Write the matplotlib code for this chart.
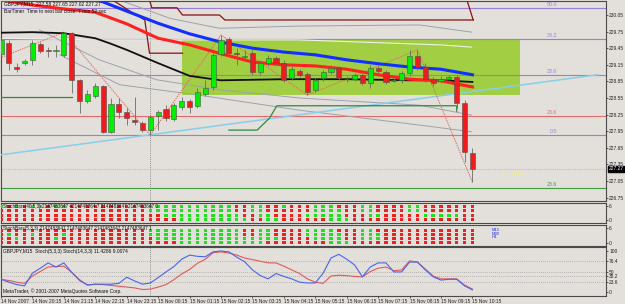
import matplotlib
matplotlib.use("Agg")
import matplotlib.pyplot as plt
from matplotlib.patches import Rectangle
import matplotlib.transforms as mtransforms

W, H = 625, 304
BG = '#e3dfda'
plt.rcParams['font.family'] = ['Liberation Sans', 'DejaVu Sans']

# ---- bars (GBPJPY M15, 14 Nov 19:15 .. 15 Nov 10:15) ----
opens = [229.35, 229.54, 229.11, 229.18, 229.24, 229.53, 229.42, 229.40, 229.33, 229.72,
         228.88, 228.50, 228.59, 228.77, 227.94, 228.44, 228.30, 228.15, 228.10, 227.97,
         228.23, 228.35, 228.17, 228.39, 228.50, 228.41, 228.62, 228.75, 229.35, 229.62,
         229.36, 229.30, 229.36, 229.02, 229.18, 229.27, 229.18, 228.91, 229.04, 228.98,
         228.70, 228.91, 229.02, 229.09, 228.90, 228.89, 228.97, 228.82, 229.09, 229.02,
         228.86, 228.87, 229.00, 229.31, 229.11, 228.89, 228.86, 228.89, 228.93, 228.46, 227.56]
highs = [229.63, 229.60, 229.18, 229.25, 229.60, 229.56, 229.47, 229.51, 229.74, 229.74,
         228.89, 228.70, 228.82, 228.79, 228.55, 228.55, 228.37, 228.57, 228.14, 228.24,
         228.33, 228.42, 228.46, 228.57, 228.53, 228.73, 228.88, 229.36, 229.69, 229.65,
         229.45, 229.42, 229.42, 229.24, 229.33, 229.31, 229.24, 229.13, 229.07, 229.02,
         228.91, 229.06, 229.15, 229.13, 228.95, 229.00, 229.00, 229.15, 229.13, 229.06,
         228.93, 229.04, 229.42, 229.42, 229.18, 228.93, 228.95, 228.97, 228.97, 228.51, 227.65]
lows = [229.31, 229.06, 229.02, 229.15, 229.15, 229.36, 229.29, 229.29, 229.29, 228.64,
        228.28, 228.46, 228.55, 227.92, 227.92, 228.19, 228.06, 228.06, 227.94, 227.88,
        227.97, 228.14, 228.14, 228.33, 228.28, 228.37, 228.59, 228.70, 229.31, 229.31,
        229.15, 229.24, 228.97, 228.97, 229.13, 229.15, 228.84, 228.88, 228.93, 228.60,
        228.66, 228.86, 228.98, 228.88, 228.84, 228.86, 228.79, 228.73, 229.00, 228.80,
        228.84, 228.82, 228.95, 229.06, 228.84, 228.77, 228.82, 228.88, 228.37, 227.39, 227.03]
closes = [229.60, 229.18, 229.07, 229.22, 229.54, 229.40, 229.40, 229.41, 229.72, 228.88,
          228.50, 228.62, 228.77, 227.94, 228.44, 228.30, 228.19, 228.12, 227.97, 228.21,
          228.30, 228.19, 228.42, 228.50, 228.39, 228.66, 228.73, 229.33, 229.60, 229.36,
          229.34, 229.31, 229.02, 229.18, 229.27, 229.18, 228.88, 229.07, 228.97, 228.66,
          228.88, 229.02, 229.09, 228.91, 228.89, 228.97, 228.82, 229.09, 229.04, 228.84,
          228.87, 229.00, 229.31, 229.11, 228.89, 228.82, 228.89, 228.93, 228.46, 227.57, 227.27]

time_labels = ["14 Nov 2007", "14 Nov 20:15", "14 Nov 21:15", "14 Nov 22:15", "14 Nov 23:15",
               "15 Nov 00:15", "15 Nov 01:15", "15 Nov 02:15", "15 Nov 03:15", "15 Nov 04:15",
               "15 Nov 05:15", "15 Nov 06:15", "15 Nov 07:15", "15 Nov 08:15", "15 Nov 09:15",
               "15 Nov 10:15"]
time_label_bars = [0, 4, 8, 12, 16, 20, 24, 28, 32, 36, 40, 44, 48, 52, 56, 60]
day_sep_bar = 19

# moving averages (bar, price)
ma_blue_bars = [0, 4, 8, 12, 16, 20, 24, 28, 32, 36, 40, 44, 48, 52, 56, 60]
ma_blue = [230.97, 230.75, 230.54, 230.34, 230.12, 229.90, 229.71, 229.56, 229.45, 229.38,
           229.33, 229.24, 229.17, 229.11, 229.07, 228.97]
ma_red_bars = [0, 4, 8, 12, 16, 20, 24, 28, 32, 36, 40, 44, 48, 52, 56, 60]
ma_red = [230.32, 230.23, 230.16, 230.10, 229.89, 229.63, 229.51, 229.35, 229.20, 229.15,
          229.13, 229.07, 228.97, 228.89, 228.86, 228.75]
ma_black_bars = [0, 4, 8, 12, 14, 16, 20, 24, 28, 36, 44, 52, 56, 60]
ma_black = [229.73, 229.74, 229.72, 229.63, 229.53, 229.42, 229.18, 228.95, 228.87, 228.89,
            228.89, 228.87, 228.87, 228.84]

# envelope lines
env1_bars = [15.1, 21.5, 27.8, 38.0, 53.3, 59.9]
env1 = [230.32, 229.99, 229.81, 229.85, 229.87, 229.74]
env2_bars = [-0.2, 12.5, 27.8, 38.0, 55.9, 59.9]
env2 = [229.63, 229.60, 229.60, 229.60, 229.51, 229.47]
env3_bars = [4.9, 12.5, 19.8, 27.8, 38.0, 53.3, 59.9]
env3 = [229.78, 229.24, 228.88, 228.70, 228.55, 228.42, 228.24]
env4_bars = [7.5, 15.1, 25.3, 38.0, 53.3, 59.9]
env4 = [229.33, 228.79, 228.60, 228.33, 228.06, 227.94]

# higher timeframe step lines (maroon)
htf_a_bars = [18.9, 19.2, 22.4, 23.1, 27.8, 28.5, 60.1]
htf_a = [230.32, 230.18, 230.18, 230.05, 230.05, 229.96, 229.96]
htf_b_bars = [14.2, 16.75, 18.3, 18.9, 23.1]
htf_b = [230.32, 230.09, 229.96, 229.36, 229.36]
htf_c_bars = [59.3, 60.1]
htf_c = [230.32, 229.96]

# green step line
grn_a_bars = [-0.2, 9.0]
grn_a = [228.57, 228.57]
grn_b_bars = [29.0, 32.6, 34.2, 35.1, 58.0, 58.0]
grn_b = [227.97, 227.97, 228.19, 228.41, 228.41, 228.31]

# zigzag
zz_bars = [-0.2, 8, 19, 28, 39, 53, 60]
zz = [229.27, 229.74, 227.88, 229.69, 228.60, 229.42, 227.03]

# trendline and rectangle
trend_bars = [-0.2, 75.9]
trend = [227.52, 228.97]
box_bars = [23.0, 66.05]
box_prices = [228.60, 229.62]

# fibonacci levels
fib_prices = [230.18, 229.62, 228.97, 228.22, 227.88, 226.93]
fib_names = ["50.0", "38.2", "23.6", "23.6", "0.0", "23.6"]
fib_colors = ['#9a7fd8', '#9a7fd8', '#9a7fd8', '#e86a6a', '#9a7fd8', '#3f9f3f']

last_price = 227.27
price_ticks = [230.05, 229.75, 229.45, 229.15, 228.85, 228.55, 228.25, 227.95,
               227.65, 227.35, 227.05, 226.75]

# stoch bar indicators: 4 rows each, G = green, R = red
sb1_rows = ["GRGRGGRGGR" "RRRRRRRRRG" "GGGGGGGGGG" "RRGGRRGRRR" "GGGRRRGGRR" "RRGGRRRRRR" "R",
            "RRRRRRRRRR" "RRRRRRRRRG" "GGGGGGGGGG" "RRGGRRRRRR" "GGGGRRGGRR" "RRGGRRRRRR" "R",
            "RRRRRRRRRR" "RRRRRRRRRR" "RGGGGGGGGG" "GRRGGRRRRG" "GGGGRRRGGR" "RRRRGGGGGR" "R",
            "RRRRRRRRRR" "RRRRRRRRRR" "RRRGGGGGGG" "GGRRGGRRRR" "RRGGGRRRRR" "RRRRRRRRRR" "R"]
sb2_rows = ["RRRRRRRRRR" "RRRRRRRRRG" "GGGGGGGGGG" "GRRGGRRRRG" "GGGRRRGGRR" "RRRRRRRRRR" "R",
            "RGRRGRRRGR" "RRRRRRRRRG" "GGGGGGGGGG" "GRRGGRRRRG" "GGGGRRGGGR" "RRRRRRRRRR" "R",
            "RRGRRRRGRR" "RRRRRRRRRR" "GGGGGGGGGG" "GGGGGGRRRR" "GGGGRRGGGR" "RRRRRRRRRR" "R",
            "RRRRRRRRRR" "RRRRRRRRRR" "RRRGGGGGGG" "GGGGRRRRRR" "RRGGGRRRRR" "RRRRRRRRRR" "R"]

# stochastics
stoch_main = [31, 24, 18, 15, 46, 58, 71, 61, 71, 48, 28, 17, 19, 19, 19, 21, 36, 27, 19, 22,
              35, 49, 62, 80, 90, 87, 86, 98, 100, 98, 85, 74, 54, 40, 32, 45, 38, 32, 24, 22,
              22, 46, 83, 92, 80, 66, 37, 61, 71, 71, 49, 49, 73, 73, 54, 37, 29, 31, 31, 15, 5]
stoch_signal = [31, 28, 24, 21, 39, 50, 61, 62, 63, 48, 30, 17, 19, 18, 16, 14, 12, 10, 6, 7,
                12, 18, 30, 44, 55, 70, 80, 96, 98, 95, 90, 83, 79, 75, 71, 71, 63, 54, 45, 32,
                24, 21, 39, 41, 40, 38, 37, 50, 58, 61, 52, 54, 76, 73, 56, 39, 32, 32, 32, 17, 7]
stoch_levels = [23.6, 38.2, 50, 76.4]
stoch_ticks = [0, 23.6, 38.2, 50, 76.4, 100]
stoch_tick_labels = ["0", "23.6", "38.2", "50", "76.4", "100"]

n = len(closes)
xs = list(range(n))
XL = (0.0, 77.0)
FS = 3.5


def frac(l, t, r, b):
    return [l / W, 1 - b / H, (r - l) / W, (b - t) / H]


def style(ax):
    ax.set_facecolor(BG)
    ax.set_xlim(*XL)
    for s in ax.spines.values():
        s.set_color('#4a4a4a')
        s.set_linewidth(0.8)
    ax.yaxis.tick_right()
    ax.tick_params(axis='y', labelsize=FS, length=1.5, pad=0.8, width=0.5, colors='#222222')
    ax.set_xticks([])
    ax.axvline(day_sep_bar, color='#707070', lw=0.6, ls=(0, (1, 1.5)))


fig = plt.figure(figsize=(W / 100, H / 100), dpi=100, facecolor=BG)

# ---------------- main chart ----------------
ax = fig.add_axes(frac(1, 1, 606, 201))
style(ax)
ax.set_ylim(226.689, 230.303)
ax.set_yticks(price_ticks)
ax.set_yticklabels([f"{p:.2f}" for p in price_ticks])

ax.add_patch(Rectangle((box_bars[0], box_prices[0]), box_bars[1] - box_bars[0],
                       box_prices[1] - box_prices[0], facecolor='#9acd32', edgecolor='none',
                       alpha=0.9, zorder=1))

for p, name, c in zip(fib_prices, fib_names, fib_colors):
    ax.axhline(p, color=c, lw=0.8, zorder=2)
    ax.text(70.8, p + 0.015, name, color=c, fontsize=FS + 0.3, ha='right', va='bottom', zorder=6)
ax.axhline(last_price, color='#9ccbe0', lw=0.8, ls=(0, (1, 1)), zorder=2)

ax.plot(env1_bars, env1, color='#9aa4ac', lw=0.7, zorder=2)
ax.plot(env2_bars, env2, color='#f2f2ea', lw=0.8, zorder=2)
ax.plot(env3_bars, env3, color='#9aa4ac', lw=0.7, zorder=2)
ax.plot(env4_bars, env4, color='#9aa4ac', lw=0.7, zorder=2)

ax.plot(trend_bars, trend, color='#87ceeb', lw=1.1, zorder=3)
ax.plot(grn_a_bars, grn_a, color='#2e8b3e', lw=0.9, zorder=3)
ax.plot(grn_b_bars, grn_b, color='#2e8b3e', lw=0.9, zorder=3)
ax.plot(htf_a_bars, htf_a, color='#8b1010', lw=0.9, zorder=3)
ax.plot(htf_b_bars, htf_b, color='#8b1010', lw=0.9, zorder=3)
ax.plot(htf_c_bars, htf_c, color='#8b1010', lw=0.9, zorder=3)
ax.plot(zz_bars, zz, color='#d8705f', lw=0.7, ls=(0, (1.5, 1)), zorder=3)

ax.plot(ma_black_bars, ma_black, color='#101010', lw=1.3, zorder=4)
ax.plot(ma_red_bars, ma_red, color='#ff2020', lw=2.2, zorder=4)
ax.plot(ma_blue_bars, ma_blue, color='#1030ff', lw=2.2, zorder=4)

# candles
body_cols = ['#00ee00' if c >= o else '#ee1c1c' for o, c in zip(opens, closes)]
ax.vlines(xs, lows, highs, color='#6a6a6a', lw=0.6, zorder=5)
ax.bar(xs, [max(abs(c - o), 0.012) for o, c in zip(opens, closes)],
       bottom=[min(o, c) for o, c in zip(opens, closes)], width=0.64,
       color=body_cols, edgecolor='#505050', linewidth=0.4, zorder=5)

ax.text(0.005, 0.997, "GBPJPY,M15  227.58 227.65 227.02 227.27", transform=ax.transAxes,
        fontsize=FS, va='top', ha='left', color='#111111', zorder=7)
ax.text(0.005, 0.962, "BarTimer  Time to next bar close: 7 min 52 sec", transform=ax.transAxes,
        fontsize=FS, va='top', ha='left', color='#111111', zorder=7)
ax.text(63.8, 227.18, "<-- 2:14", color='#f4f46a', fontsize=FS + 1, ha='left', va='center',
        zorder=7)
tr = mtransforms.blended_transform_factory(ax.transAxes, ax.transData)
ax.text(1.004, last_price, "227.27", transform=tr, fontsize=FS, color='white', ha='left',
        va='center', zorder=8, bbox=dict(boxstyle='square,pad=0.12', fc='black', ec='black'))


# ---------------- stoch bar panels ----------------
def stoch_bars(ax, rows, centers, h, label):
    style(ax)
    for row, yc in zip(rows, centers):
        cols = ['#20e020' if ch == 'G' else '#ee2020' for ch in row]
        ax.bar(xs, [h] * n, bottom=yc - h / 2, width=0.42, color=cols, linewidth=0, zorder=3)
    ax.set_yticks([0, 6])
    ax.set_yticklabels(["0", "6"])
    ax.text(0.004, 0.93, label, transform=ax.transAxes, fontsize=FS - 0.2, va='top',
            ha='left', color='#111111', zorder=6)


ax1 = fig.add_axes(frac(1, 203, 606, 223))
ax1.set_ylim(-1.29, 7.29)
stoch_bars(ax1, sb1_rows, [5.6, 3.9, 2.1, 0.4], 1.3,
           "StochBars(40,5,3) 2147483647 4214748364 7 2147483647 2147483647 0")

ax2 = fig.add_axes(frac(1, 225, 606, 246))
ax2.set_ylim(-1.2, 7.2)
stoch_bars(ax2, sb2_rows, [5.2, 3.6, 2.0, 0.4], 1.2,
           "StochBars(5,3,3) 2147483647 2147483647 2147483647 2147483647 1")
ax2.text(62.4, 6.0, "M15\nM30\nH4", color='#2030e0', fontsize=FS - 0.5, ha='left', va='top',
         linespacing=0.9, zorder=6)

# ---------------- stochastic ----------------
ax3 = fig.add_axes(frac(1, 247, 606, 296))
style(ax3)
ax3.set_ylim(-9.8, 109.8)
for lv in stoch_levels:
    ax3.axhline(lv, color='#8a8a8a', lw=0.5, ls=(0, (1, 2)))
ax3.plot(xs, stoch_signal, color='#e05a5a', lw=0.8, zorder=3)
ax3.plot(xs, stoch_main, color='#4a64f0', lw=0.8, zorder=4)
ax3.set_yticks(stoch_ticks)
ax3.set_yticklabels(stoch_tick_labels)
ax3.set_xticks(time_label_bars)
ax3.set_xticklabels(time_labels, ha='left')
ax3.tick_params(axis='x', labelsize=FS, length=1.5, pad=0.8, width=0.5, colors='#222222')
ax3.text(0.004, 0.95, "GBPJPY,M15  Stoch(5,3,3) Stoch(14,3,3) 11.4286 9.0074",
         transform=ax3.transAxes, fontsize=FS, va='top', ha='left', color='#111111')
ax3.text(0.004, 0.05, "MetaTrader, \u00a9 2001-2007 MetaQuotes Software Corp.",
         transform=ax3.transAxes, fontsize=FS, va='bottom', ha='left', color='#111111')

fig.savefig("out.png", dpi=100, facecolor=BG)
